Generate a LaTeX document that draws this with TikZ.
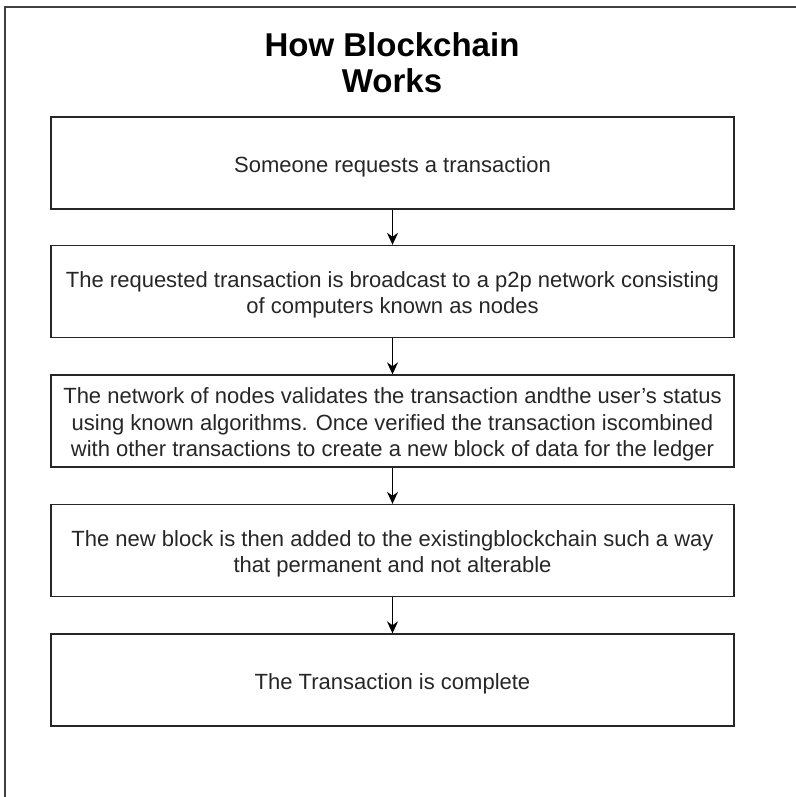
\documentclass[tikz,border=0pt]{standalone}
\usepackage{fontspec}
\setmainfont{Liberation Sans}
\usetikzlibrary{arrows.meta}
\begin{document}
\begin{tikzpicture}[x=1pt,y=-1pt,
  stepbox/.style={draw=black!85,line width=1.3pt,minimum width=683pt,minimum height=92pt,inner sep=0pt},
  steptext/.style={align=center,inner sep=0pt,yshift=-3.5pt,font=\fontsize{22}{26.5}\selectfont,text=black!85},
  flow/.style={draw=black,line width=1.3pt,-{Stealth[length=12pt,width=11pt]}},
  frame/.style={draw=black!75,line width=1.4pt}]
\useasboundingbox (0,0) rectangle (795,797);
\coordinate (fl) at (5,797);
\coordinate (ftl) at (5,7);
\coordinate (fr) at (797,7);
\draw[frame] (fl) -- (ftl) -- (fr);
\node[font=\fontsize{33}{36}\selectfont\bfseries,align=center,text=black] (title) at (392,62.5) {How Blockchain\\Works};
\node[stepbox,label={[steptext]center:{Someone requests a transaction}}] (s1) at (392.5,163) {};
\node[stepbox,label={[steptext]center:{The requested transaction is broadcast to a p2p network consisting\\of computers known as nodes}}] (s2) at (392.5,291.5) {};
\node[stepbox,label={[steptext]center:{The network of nodes validates the transaction andthe user’s status\\using known algorithms. Once verified the transaction iscombined\\with other transactions to create a new block of data for the ledger}}] (s3) at (392.5,421) {};
\node[stepbox,label={[steptext]center:{The new block is then added to the existingblockchain such a way\\that permanent and not alterable}}] (s4) at (392.5,550.5) {};
\node[stepbox,label={[steptext]center:{The Transaction is complete}}] (s5) at (392.5,680) {};
\draw[flow] (s1) -- (s2);
\draw[flow] (s2) -- (s3);
\draw[flow] (s3) -- (s4);
\draw[flow] (s4) -- (s5);
\end{tikzpicture}
\end{document}
